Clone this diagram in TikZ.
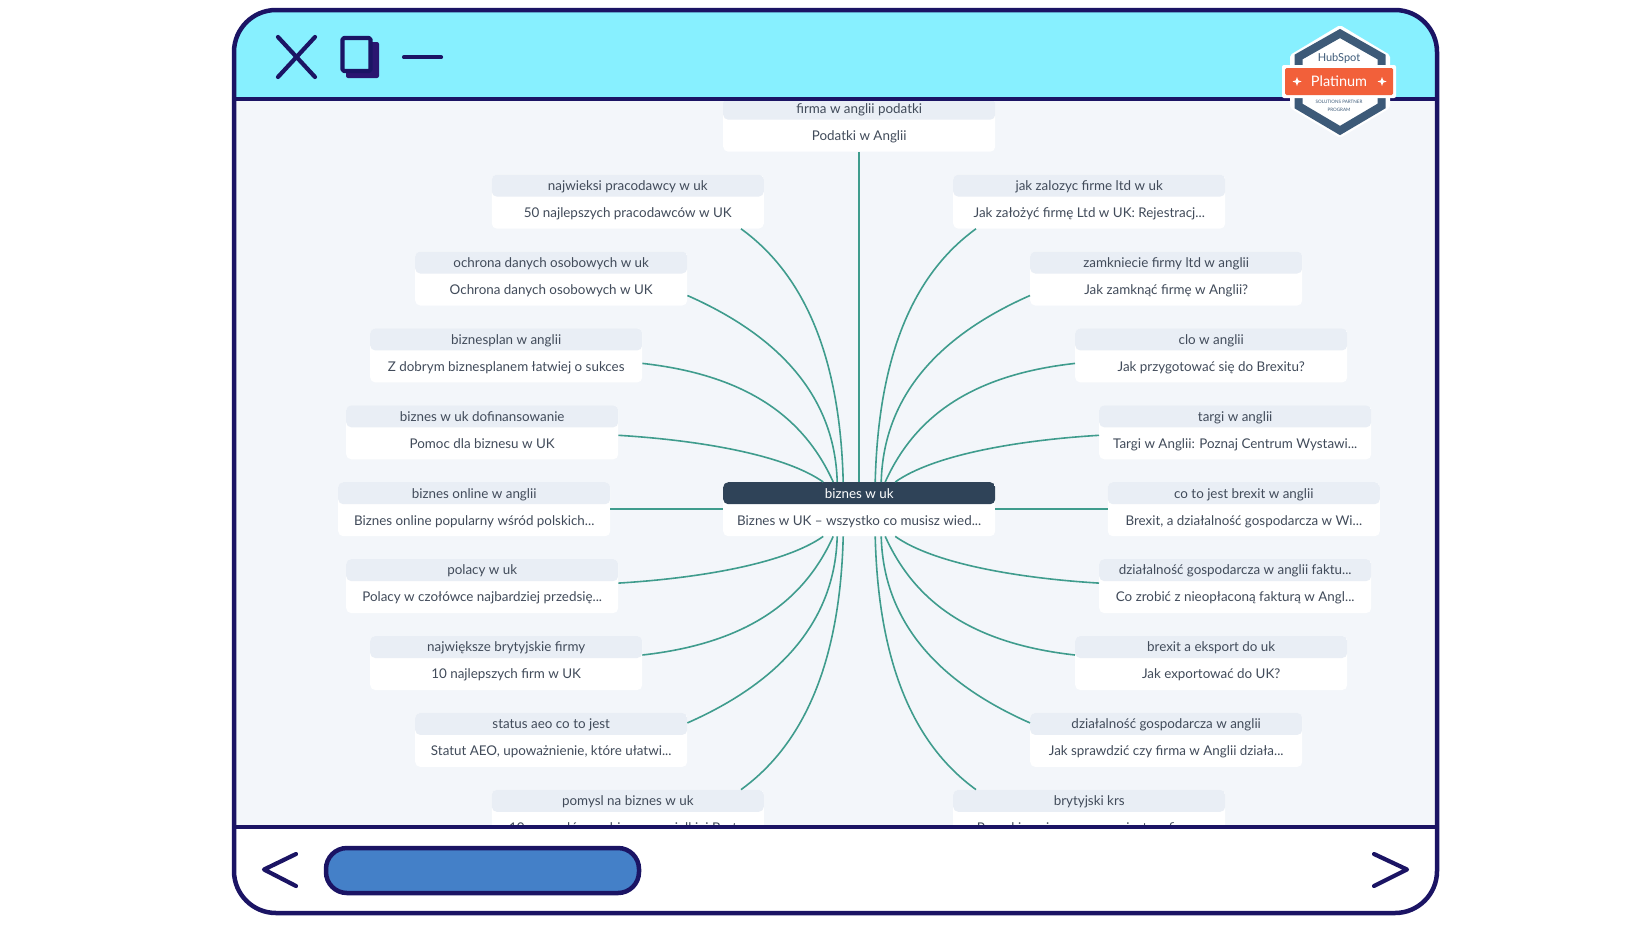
\documentclass[tikz,border=0pt]{standalone}
\usepackage{fontspec}
\setmainfont{Lato}
\definecolor{navy}{HTML}{1B1464}
\definecolor{backsquare}{HTML}{2A1570}
\definecolor{cyanbar}{HTML}{87F0FF}
\definecolor{canvasbg}{HTML}{F3F6FA}
\definecolor{hdrbg}{HTML}{E9EEF5}
\definecolor{hdrdark}{HTML}{2F4358}
\definecolor{txt}{HTML}{414B5A}
\definecolor{teal}{HTML}{3F9C8D}
\definecolor{pill}{HTML}{4480C8}
\definecolor{slate}{HTML}{3D5A78}
\definecolor{orangeb}{HTML}{F2603A}
\tikzset{
  x=1pt,y=-1pt,
  mindbox/.style={rectangle,draw=none,fill=white,minimum width=272pt,minimum height=54pt,inner sep=0pt,rounded corners=5pt,anchor=north west,
    path picture={\fill[#1] (path picture bounding box.north west) rectangle ([yshift=-22pt]path picture bounding box.north east);}},
  labeltext/.style={anchor=base,inner sep=0pt,text=txt,font=\fontsize{13.4}{16}\selectfont},
  conn/.style={draw=teal,line width=1.6pt},
  winline/.style={draw=navy,line width=4.5pt},
  icon/.style={draw=navy,line width=4.2pt,line cap=round,line join=round},
}
% name, x, row k, label, body
\newcommand{\mindnode}[6][hdrbg]{%
  \pgfmathsetmacro{\tp}{482+76.9*#4}%
  \node[mindbox=#1] (#2) at (#3,\tp) {};
  \node[labeltext] (#2h) at ([yshift=-16pt]#2.north) {#5};
  \node[labeltext] (#2b) at ([yshift=-43pt]#2.north) {#6};
}
\begin{document}
\begin{tikzpicture}
\useasboundingbox (0,0) rectangle (1640,924);
\fill[white] (0,0) rectangle (1640,924);
\fill[canvasbg,rounded corners=42pt] (234,10) rectangle (1437,913);

% nodes
\mindnode[hdrdark]{C}{723}{0}{\textcolor{white}{biznes w uk}}{Biznes w UK – wszystko co musisz wied...}
\mindnode{T}{723}{-5}{firma w anglii podatki}{Podatki w Anglii}
\mindnode{La}{491.6}{-4}{najwieksi pracodawcy w uk}{50 najlepszych pracodawców w UK}
\mindnode{Lb}{415}{-3}{ochrona danych osobowych w uk}{Ochrona danych osobowych w UK}
\mindnode{Lc}{370}{-2}{biznesplan w anglii}{Z dobrym biznesplanem łatwiej o sukces}
\mindnode{Ld}{346}{-1}{biznes w uk dofinansowanie}{Pomoc dla biznesu w UK}
\mindnode{Le}{338}{0}{biznes online w anglii}{Biznes online popularny wśród polskich...}
\mindnode{Lf}{346}{1}{polacy w uk}{Polacy w czołówce najbardziej przedsię...}
\mindnode{Lg}{370}{2}{największe brytyjskie firmy}{10 najlepszych firm w UK}
\mindnode{Lh}{415}{3}{status aeo co to jest}{Statut AEO, upoważnienie, które ułatwi...}
\mindnode{Li}{491.6}{4}{pomysl na biznes w uk}{10 pomysłów na biznes w wielkiej Bryt...}
\mindnode{Ra}{953}{-4}{jak zalozyc firme ltd w uk}{Jak założyć firmę Ltd w UK: Rejestracj...}
\mindnode{Rb}{1030}{-3}{zamkniecie firmy ltd w anglii}{Jak zamknąć firmę w Anglii?}
\mindnode{Rc}{1075}{-2}{clo w anglii}{Jak przygotować się do Brexitu?}
\mindnode{Rd}{1099}{-1}{targi w anglii}{Targi w Anglii: Poznaj Centrum Wystawi...}
\mindnode{Re}{1107.6}{0}{co to jest brexit w anglii}{Brexit, a działalność gospodarcza w Wi...}
\mindnode{Rf}{1099}{1}{działalność gospodarcza w anglii faktu...}{Co zrobić z nieopłaconą fakturą w Angl...}
\mindnode{Rg}{1075}{2}{brexit a eksport do uk}{Jak exportować do UK?}
\mindnode{Rh}{1030}{3}{działalność gospodarcza w anglii}{Jak sprawdzić czy firma w Anglii działa...}
\mindnode{Ri}{953}{4}{brytyjski krs}{Poszukiwanie nazwy w rejestrze firm...}

% connectors
\draw[conn] (T.south) -- (C.north);
\draw[conn] (Le.east) -- (C.west);
\draw[conn] (Re.west) -- (C.east);
% upper left
\draw[conn] ([xshift=-23pt]La.south east) .. controls +(65,47) and +(-3,-122) .. ([xshift=-16pt]C.north);
\draw[conn] ([yshift=-17pt]Lb.east) .. controls +(102,45) and +(-2,-77) .. ([xshift=-22pt]C.north);
\draw[conn] ([yshift=-8pt]Lc.east) .. controls +(108,12) and +(-28,-62) .. ([xshift=-26pt]C.north);
\draw[conn] ([yshift=-3pt]Ld.east) .. controls +(82,5) and +(-38,-27) .. ([xshift=-36pt]C.north);
% upper right
\draw[conn] ([xshift=23pt]Ra.south west) .. controls +(-65,47) and +(3,-122) .. ([xshift=16pt]C.north);
\draw[conn] ([yshift=-17pt]Rb.west) .. controls +(-102,45) and +(2,-77) .. ([xshift=22pt]C.north);
\draw[conn] ([yshift=-8pt]Rc.west) .. controls +(-108,12) and +(28,-62) .. ([xshift=26pt]C.north);
\draw[conn] ([yshift=-3pt]Rd.west) .. controls +(-82,5) and +(38,-27) .. ([xshift=36pt]C.north);
% lower left
\draw[conn] ([xshift=-23pt]Li.north east) .. controls +(65,-47) and +(-3,122) .. ([xshift=-16pt]C.south);
\draw[conn] ([yshift=17pt]Lh.east) .. controls +(102,-45) and +(-2,77) .. ([xshift=-22pt]C.south);
\draw[conn] ([yshift=8pt]Lg.east) .. controls +(108,-12) and +(-28,62) .. ([xshift=-26pt]C.south);
\draw[conn] ([yshift=3pt]Lf.east) .. controls +(82,-5) and +(-38,27) .. ([xshift=-36pt]C.south);
% lower right
\draw[conn] ([xshift=23pt]Ri.north west) .. controls +(-65,-47) and +(3,122) .. ([xshift=16pt]C.south);
\draw[conn] ([yshift=17pt]Rh.west) .. controls +(-102,-45) and +(2,77) .. ([xshift=22pt]C.south);
\draw[conn] ([yshift=8pt]Rg.west) .. controls +(-108,-12) and +(28,62) .. ([xshift=26pt]C.south);
\draw[conn] ([yshift=3pt]Rf.west) .. controls +(-82,-5) and +(38,27) .. ([xshift=36pt]C.south);

% title bar and footer cover the scrolled content
\begin{scope}
\clip[rounded corners=42pt] (234,10) rectangle (1437,913);
\fill[cyanbar] (234,10) rectangle (1437,99);
\fill[white] (234,827) rectangle (1437,913);
\end{scope}
\draw[winline] (234,99) -- (1437,99);
\draw[winline] (234,827) -- (1437,827);
\draw[winline,rounded corners=42pt] (234,10) rectangle (1437,913);

% window buttons
\draw[icon] (278,37) -- (315,77);
\draw[icon] (315,37) -- (278,77);
\fill[backsquare,rounded corners=2pt] (346,42) rectangle (379,78);
\draw[icon,fill=cyanbar,line cap=butt,rounded corners=1.5pt] (342.5,38) rectangle (370.5,71);
\draw[icon] (404,57.3) -- (441,57.3);

% footer controls
\draw[icon] (296,854) -- (264,869.5) -- (296,886);
\draw[icon] (1374,854) -- (1407,869.5) -- (1374,886);
\draw[navy,line width=4.5pt,fill=pill,rounded corners=21pt] (326,848) rectangle (639,893);

% badge
\fill[white,rounded corners=2pt] (1340,25) -- (1390,55) -- (1390,108) -- (1340,138) -- (1290,108) -- (1290,55) -- cycle;
\draw[slate,line width=8pt,line join=miter] (1340,33.5) -- (1381.5,57) -- (1381.5,106) -- (1340,130.5) -- (1298.5,106) -- (1298.5,57) -- cycle;
\fill[white,rounded corners=2pt] (1282,65) rectangle (1396,98);
\fill[orangeb,rounded corners=1.5pt] (1285,68) rectangle (1393,95);
\node[inner sep=0pt,text=slate,font=\fontsize{11}{12}\selectfont] (bhub) at (1339,58) {HubSpot};
\node[inner sep=0pt,text=white,font=\fontsize{14.5}{16}\selectfont] (bplat) at (1339,81.5) {Platinum};
\node[inner sep=0pt,text=slate,font=\fontsize{4.6}{5}\selectfont] (bsol) at (1339,102) {SOLUTIONS PARTNER};
\node[inner sep=0pt,text=slate,font=\fontsize{4.6}{5}\selectfont] (bprog) at (1339,109.5) {PROGRAM};
\fill[white] (1297,77) -- (1298.2,80.3) -- (1301.5,81.5) -- (1298.2,82.7) -- (1297,86) -- (1295.8,82.7) -- (1292.5,81.5) -- (1295.8,80.3) -- cycle;
\fill[white] (1382,77) -- (1383.2,80.3) -- (1386.5,81.5) -- (1383.2,82.7) -- (1382,86) -- (1380.8,82.7) -- (1377.5,81.5) -- (1380.8,80.3) -- cycle;
\end{tikzpicture}
\end{document}
